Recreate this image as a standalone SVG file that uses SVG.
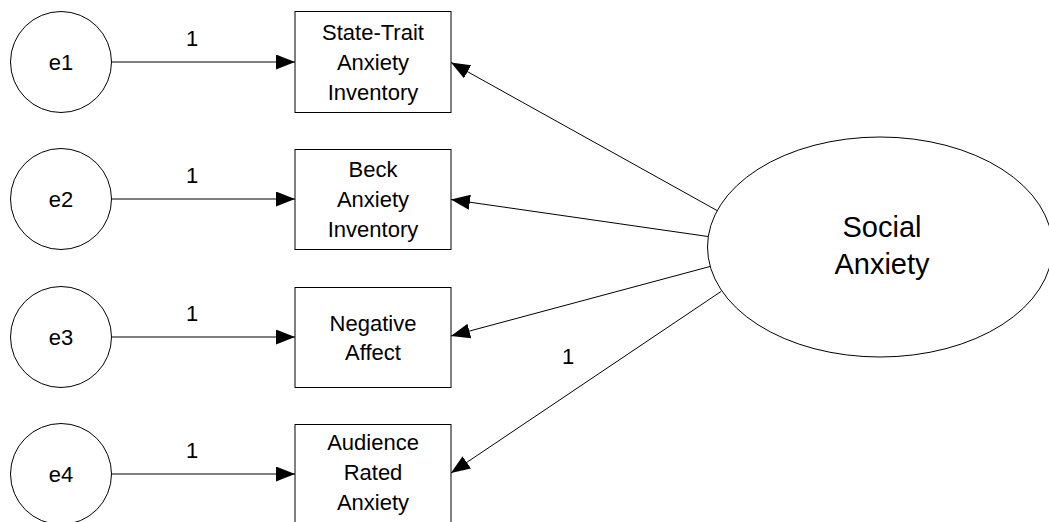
<svg xmlns="http://www.w3.org/2000/svg" width="1049" height="522" viewBox="0 0 1049 522">
<defs>
<marker id="arr" markerUnits="userSpaceOnUse" markerWidth="19" markerHeight="15" refX="19" refY="7.5" orient="auto">
<path d="M0,0 L19,7.5 L0,15 z" fill="#000"/>
</marker>
<style>
.n{fill:#fff;stroke:#000;stroke-width:1}
.t{font-family:"Liberation Sans",Arial,sans-serif;font-size:22px;fill:#000;text-anchor:middle}
.big{font-size:29px}
.c{stroke:#000;stroke-width:1;fill:none;marker-end:url(#arr)}
</style>
</defs>
<rect width="1049" height="522" fill="#fff"/>
<g id="connectors">
<line class="c" x1="111.5" y1="62" x2="295" y2="62"/>
<line class="c" x1="111.5" y1="199" x2="295" y2="199"/>
<line class="c" x1="111.5" y1="337" x2="295" y2="337"/>
<line class="c" x1="111.5" y1="474" x2="295" y2="474"/>
<line class="c" x1="717" y1="210.5" x2="451" y2="62.5"/>
<line class="c" x1="708" y1="236.5" x2="451" y2="199.5"/>
<line class="c" x1="710" y1="266.5" x2="451" y2="336"/>
<line class="c" x1="721" y1="291.5" x2="451" y2="473"/>
<text class="t" x="192" y="46">1</text>
<text class="t" x="192" y="183">1</text>
<text class="t" x="192" y="321">1</text>
<text class="t" x="192" y="458">1</text>
<text class="t" x="568" y="364">1</text>
</g>
<g id="e1"><circle class="n" cx="61" cy="62" r="50.5"/><text class="t" x="61" y="69.5">e1</text></g>
<g id="e2"><circle class="n" cx="61" cy="199" r="50.5"/><text class="t" x="61" y="206.5">e2</text></g>
<g id="e3"><circle class="n" cx="61" cy="337" r="50.5"/><text class="t" x="61" y="344.5">e3</text></g>
<g id="e4"><circle class="n" cx="61" cy="474" r="50.5"/><text class="t" x="61" y="481.5">e4</text></g>
<g id="stai"><rect class="n" x="295" y="11.5" width="156" height="101"/>
<text class="t" x="373" y="40">State-Trait</text><text class="t" x="373" y="70">Anxiety</text><text class="t" x="373" y="100">Inventory</text></g>
<g id="bai"><rect class="n" x="295" y="149.5" width="156" height="100"/>
<text class="t" x="373" y="177">Beck</text><text class="t" x="373" y="207">Anxiety</text><text class="t" x="373" y="237">Inventory</text></g>
<g id="na"><rect class="n" x="295" y="287.5" width="156" height="100"/>
<text class="t" x="373" y="331">Negative</text><text class="t" x="373" y="360">Affect</text></g>
<g id="ara"><rect class="n" x="295" y="424.5" width="156" height="101"/>
<text class="t" x="373" y="450">Audience</text><text class="t" x="373" y="480">Rated</text><text class="t" x="373" y="510">Anxiety</text></g>
<g id="sa"><ellipse class="n" cx="880" cy="247" rx="172.5" ry="110"/>
<text class="t big" x="882" y="237">Social</text><text class="t big" x="882" y="274">Anxiety</text></g>
</svg>
